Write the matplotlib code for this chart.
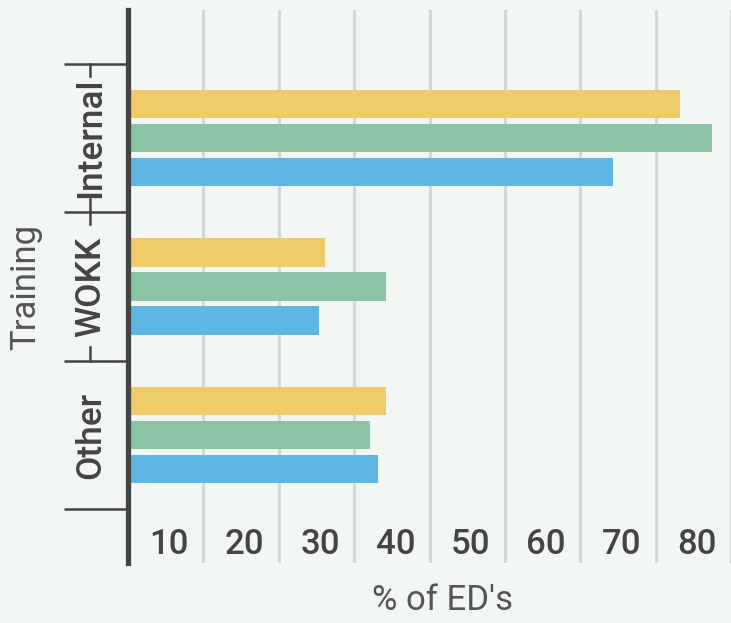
import matplotlib.pyplot as plt
from matplotlib.transforms import ScaledTranslation, blended_transform_factory
import numpy as np

groups = ["Internal", "WOKK", "Other"]
yellow_vals = [73.2, 26.1, 34.2]
green_vals = [77.5, 34.2, 32.1]
blue_vals = [64.3, 25.3, 33.2]
xticks = [10, 20, 30, 40, 50, 60, 70, 80]

bg = "#f3f7f4"
dark = "#444444"

plt.rcParams["font.family"] = ["Roboto", "DejaVu Sans"]

fig = plt.figure(figsize=(7.31, 6.23), dpi=100, facecolor=bg)
ax = fig.add_axes([128 / 731, 60 / 623, 603 / 731, 553 / 623], facecolor=bg)

y = np.arange(len(groups))
off = 0.229
h = 0.189
ax.barh(y - off, yellow_vals, height=h, color="#f0cb69", zorder=2)
ax.barh(y, green_vals, height=h, color="#8dc4a7", zorder=2)
ax.barh(y + off, blue_vals, height=h, color="#5db6e4", zorder=2)

ax.set_xlim(0, 80)
ax.set_ylim(2.862, -0.862)

# grid
ax.set_xticks(xticks)
ax.set_xticklabels([str(t) for t in xticks])
ax.grid(axis="x", color="#d3d7d5", linewidth=2.2, zorder=0)
ax.tick_params(axis="x", length=0, pad=0, labelsize=25, labelcolor=dark)
for lab in ax.get_xticklabels():
    lab.set_fontweight("medium")
    lab.set_transform(lab.get_transform() + ScaledTranslation(-0.34, 0.35, fig.dpi_scale_trans))

for s in ["top", "right", "bottom"]:
    ax.spines[s].set_visible(False)
ax.spines["left"].set_color(dark)
ax.spines["left"].set_linewidth(3.8)
ax.spines["left"].set_zorder(3)

# group labels and separators
ax.set_yticks(y)
ax.set_yticklabels(groups, rotation=90, va="center", fontsize=25.5, fontweight="medium", color=dark)
ax.tick_params(axis="y", length=0, pad=15)
ax.set_yticks(np.arange(len(groups) + 1) - 0.5, minor=True)
ax.tick_params(axis="y", which="minor", length=46, width=1.8, color=dark)

tr = blended_transform_factory(ax.transAxes, ax.transData)
bx = -38 / 603
for i in range(2):
    ax.plot([bx, bx], [i - 0.5, i - 0.42], transform=tr, color=dark, lw=1.8, clip_on=False)
    ax.plot([bx, bx], [i + 0.41, i + 0.5], transform=tr, color=dark, lw=1.8, clip_on=False)

ax.set_ylabel("Training", fontsize=25, color="#555555")
ax.yaxis.set_label_coords(-0.142, 0.5)
ax.set_xlabel("% of ED's", fontsize=25, color="#555555")
ax.xaxis.set_label_coords(0.5215, -0.038)

fig.savefig("out.png", dpi=100, facecolor=bg)
